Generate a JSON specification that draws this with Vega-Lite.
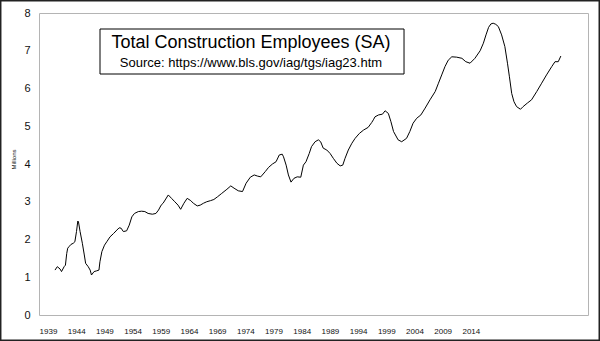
{
  "$schema": "https://vega.github.io/schema/vega-lite/v6.json",
  "width": 549,
  "height": 302,
  "autosize": "none",
  "padding": {"left": 39, "top": 13, "right": 12, "bottom": 26},
  "background": "white",
  "config": {
    "font": "Liberation Sans",
    "view": {"stroke": "#b4b4b4", "strokeWidth": 1}
  },
  "layer": [
    {
      "data": {"values": [
        {"year": 1939.0, "employees": 1.19}, {"year": 1939.35, "employees": 1.28}, {"year": 1939.77, "employees": 1.22},
        {"year": 1940.0, "employees": 1.15}, {"year": 1940.4, "employees": 1.28}, {"year": 1940.6, "employees": 1.32},
        {"year": 1940.8, "employees": 1.63}, {"year": 1940.95, "employees": 1.77}, {"year": 1941.15, "employees": 1.81},
        {"year": 1941.45, "employees": 1.87}, {"year": 1941.8, "employees": 1.9}, {"year": 1942.05, "employees": 1.94},
        {"year": 1942.3, "employees": 2.21}, {"year": 1942.5, "employees": 2.49}, {"year": 1942.6, "employees": 2.47},
        {"year": 1942.85, "employees": 2.21}, {"year": 1943.2, "employees": 1.9}, {"year": 1943.5, "employees": 1.59},
        {"year": 1943.7, "employees": 1.37}, {"year": 1944.1, "employees": 1.28}, {"year": 1944.4, "employees": 1.19},
        {"year": 1944.6, "employees": 1.06}, {"year": 1945.0, "employees": 1.15}, {"year": 1945.4, "employees": 1.17},
        {"year": 1945.75, "employees": 1.19}, {"year": 1945.9, "employees": 1.41}, {"year": 1946.2, "employees": 1.68},
        {"year": 1946.6, "employees": 1.85}, {"year": 1946.95, "employees": 1.94}, {"year": 1947.45, "employees": 2.07},
        {"year": 1948.0, "employees": 2.16}, {"year": 1948.5, "employees": 2.25}, {"year": 1948.85, "employees": 2.31},
        {"year": 1949.15, "employees": 2.3}, {"year": 1949.5, "employees": 2.21}, {"year": 1950.0, "employees": 2.23},
        {"year": 1950.4, "employees": 2.38}, {"year": 1950.8, "employees": 2.6}, {"year": 1951.2, "employees": 2.69},
        {"year": 1951.8, "employees": 2.74}, {"year": 1952.3, "employees": 2.75}, {"year": 1952.8, "employees": 2.74},
        {"year": 1953.3, "employees": 2.69}, {"year": 1953.95, "employees": 2.67}, {"year": 1954.5, "employees": 2.69},
        {"year": 1954.9, "employees": 2.78}, {"year": 1955.3, "employees": 2.91}, {"year": 1955.6, "employees": 2.96},
        {"year": 1956.4, "employees": 3.18}, {"year": 1956.9, "employees": 3.09}, {"year": 1957.4, "employees": 3.0},
        {"year": 1957.9, "employees": 2.91}, {"year": 1958.3, "employees": 2.8}, {"year": 1958.8, "employees": 2.96},
        {"year": 1959.3, "employees": 3.09}, {"year": 1959.85, "employees": 3.03}, {"year": 1960.25, "employees": 2.96},
        {"year": 1960.85, "employees": 2.89}, {"year": 1961.3, "employees": 2.91}, {"year": 1961.8, "employees": 2.96},
        {"year": 1962.3, "employees": 3.0}, {"year": 1962.9, "employees": 3.03}, {"year": 1963.4, "employees": 3.06},
        {"year": 1963.95, "employees": 3.13}, {"year": 1964.6, "employees": 3.22}, {"year": 1965.4, "employees": 3.33},
        {"year": 1966.0, "employees": 3.42}, {"year": 1966.5, "employees": 3.36}, {"year": 1967.15, "employees": 3.29},
        {"year": 1967.8, "employees": 3.27}, {"year": 1968.35, "employees": 3.49}, {"year": 1969.0, "employees": 3.65},
        {"year": 1969.6, "employees": 3.71}, {"year": 1970.1, "employees": 3.68}, {"year": 1970.6, "employees": 3.66},
        {"year": 1971.3, "employees": 3.8}, {"year": 1971.8, "employees": 3.91}, {"year": 1972.4, "employees": 4.0},
        {"year": 1972.95, "employees": 4.06}, {"year": 1973.45, "employees": 4.24}, {"year": 1973.9, "employees": 4.26},
        {"year": 1974.1, "employees": 4.19}, {"year": 1974.5, "employees": 3.97}, {"year": 1974.85, "employees": 3.71},
        {"year": 1975.25, "employees": 3.52}, {"year": 1975.7, "employees": 3.62}, {"year": 1976.2, "employees": 3.66},
        {"year": 1976.75, "employees": 3.65}, {"year": 1977.15, "employees": 3.97}, {"year": 1977.55, "employees": 4.06},
        {"year": 1978.05, "employees": 4.28}, {"year": 1978.4, "employees": 4.46}, {"year": 1978.95, "employees": 4.59},
        {"year": 1979.45, "employees": 4.64}, {"year": 1979.8, "employees": 4.59}, {"year": 1980.2, "employees": 4.42},
        {"year": 1980.75, "employees": 4.37}, {"year": 1981.25, "employees": 4.28}, {"year": 1981.75, "employees": 4.15},
        {"year": 1982.3, "employees": 4.02}, {"year": 1982.8, "employees": 3.95}, {"year": 1983.2, "employees": 3.97},
        {"year": 1983.55, "employees": 4.15}, {"year": 1984.05, "employees": 4.37}, {"year": 1984.6, "employees": 4.55},
        {"year": 1985.1, "employees": 4.68}, {"year": 1985.75, "employees": 4.81}, {"year": 1986.4, "employees": 4.9},
        {"year": 1987.1, "employees": 4.97}, {"year": 1987.65, "employees": 5.1}, {"year": 1987.9, "employees": 5.17},
        {"year": 1988.15, "employees": 5.25}, {"year": 1988.7, "employees": 5.3}, {"year": 1989.3, "employees": 5.32},
        {"year": 1989.7, "employees": 5.41}, {"year": 1990.2, "employees": 5.34}, {"year": 1990.6, "employees": 5.12},
        {"year": 1991.0, "employees": 4.86}, {"year": 1991.7, "employees": 4.64}, {"year": 1992.25, "employees": 4.59},
        {"year": 1993.0, "employees": 4.68}, {"year": 1993.5, "employees": 4.86}, {"year": 1994.0, "employees": 5.08},
        {"year": 1994.55, "employees": 5.21}, {"year": 1995.2, "employees": 5.3}, {"year": 1995.85, "employees": 5.48},
        {"year": 1996.6, "employees": 5.7}, {"year": 1997.4, "employees": 5.92}, {"year": 1997.9, "employees": 6.14},
        {"year": 1998.4, "employees": 6.36}, {"year": 1998.9, "employees": 6.58}, {"year": 1999.4, "employees": 6.75},
        {"year": 1999.95, "employees": 6.84}, {"year": 2000.7, "employees": 6.83}, {"year": 2001.5, "employees": 6.8},
        {"year": 2002.1, "employees": 6.71}, {"year": 2002.75, "employees": 6.67}, {"year": 2003.5, "employees": 6.8},
        {"year": 2004.3, "employees": 7.0}, {"year": 2004.8, "employees": 7.2}, {"year": 2005.2, "employees": 7.42},
        {"year": 2005.6, "employees": 7.62}, {"year": 2005.95, "employees": 7.71}, {"year": 2006.3, "employees": 7.73},
        {"year": 2006.7, "employees": 7.7}, {"year": 2007.1, "employees": 7.64}, {"year": 2007.6, "employees": 7.42},
        {"year": 2008.1, "employees": 7.11}, {"year": 2008.5, "employees": 6.67}, {"year": 2008.8, "employees": 6.31},
        {"year": 2009.15, "employees": 5.87}, {"year": 2009.5, "employees": 5.65}, {"year": 2009.9, "employees": 5.52},
        {"year": 2010.5, "employees": 5.45}, {"year": 2010.9, "employees": 5.52}, {"year": 2011.6, "employees": 5.62},
        {"year": 2012.2, "employees": 5.7}, {"year": 2013.0, "employees": 5.92}, {"year": 2013.75, "employees": 6.14},
        {"year": 2014.5, "employees": 6.36}, {"year": 2015.3, "employees": 6.58}, {"year": 2015.8, "employees": 6.71},
        {"year": 2016.3, "employees": 6.71}, {"year": 2016.7, "employees": 6.86}
      ]},
      "mark": {"type": "line", "color": "black", "strokeWidth": 1},
      "encoding": {
        "x": {
          "field": "year", "type": "quantitative",
          "scale": {"domain": [1936.54, 2020.87], "nice": false, "zero": false},
          "axis": {
            "title": null, "grid": false, "domain": false, "ticks": false, "tickSize": 0, "tickCount": 40,
            "values": [1937.923, 1942.253, 1946.583, 1950.913, 1955.243, 1959.573, 1963.903, 1968.233, 1972.563, 1976.893, 1981.223, 1985.553, 1989.883, 1994.213, 1998.543, 2002.873],
            "labelExpr": "'' + (1939 + 5 * round((datum.value - 1937.923) / 4.33))",
            "labelFontSize": 8, "labelColor": "#111", "labelPadding": 12, "labelBaseline": "top", "labelFlush": false, "labelOverlap": false
          }
        },
        "y": {
          "field": "employees", "type": "quantitative",
          "scale": {"domain": [0, 8], "nice": false},
          "axis": {
            "title": "Millions", "titleFontSize": 6, "titleFontWeight": "normal", "titleColor": "#111",
            "titleX": -26, "titleY": 146, "titleBaseline": "middle", "titleAngle": -90,
            "grid": false, "domain": false, "ticks": false, "tickSize": 0, "tickCount": 20,
            "values": [0, 1, 2, 3, 4, 5, 6, 7, 8], "format": "d",
            "labelFontSize": 11, "labelColor": "#111", "labelPadding": 9, "labelFlush": false, "labelOverlap": false
          }
        }
      }
    },
    {
      "data": {"values": [{}]},
      "mark": {"type": "rect", "fill": "white", "stroke": "black", "strokeWidth": 1},
      "encoding": {
        "x": {"datum": 1945.91, "type": "quantitative"},
        "x2": {"datum": 1992.61},
        "y": {"datum": 7.576, "type": "quantitative"},
        "y2": {"datum": 6.384}
      }
    },
    {
      "data": {"values": [{}]},
      "mark": {"type": "text", "fontSize": 18, "align": "center", "baseline": "alphabetic", "color": "black"},
      "encoding": {
        "x": {"datum": 1969.1, "type": "quantitative"},
        "y": {"datum": 7.081, "type": "quantitative"},
        "text": {"value": "Total Construction Employees (SA)"}
      }
    },
    {
      "data": {"values": [{}]},
      "mark": {"type": "text", "fontSize": 13, "align": "center", "baseline": "alphabetic", "color": "black"},
      "encoding": {
        "x": {"datum": 1969.1, "type": "quantitative"},
        "y": {"datum": 6.57, "type": "quantitative"},
        "text": {"value": "Source: https://www.bls.gov/iag/tgs/iag23.htm"}
      }
    },
    {
      "data": {"values": [{}]},
      "mark": {"type": "rect", "fill": null, "fillOpacity": 0, "stroke": "#222", "strokeWidth": 1.5, "clip": false},
      "encoding": {
        "x": {"datum": 1930.66, "type": "quantitative"},
        "x2": {"datum": 2022.6},
        "y": {"datum": 8.324, "type": "quantitative"},
        "y2": {"datum": -0.67}
      }
    }
  ]
}
